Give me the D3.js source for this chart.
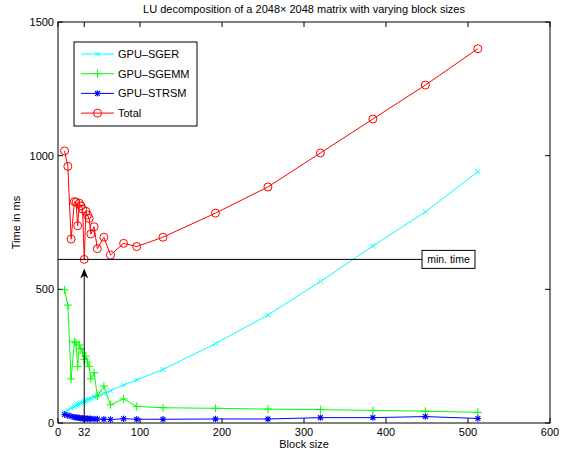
<!DOCTYPE html>
<html>
<head>
<meta charset="utf-8">
<script src="https://cdn.jsdelivr.net/npm/d3@7"></script>
<style>
  body { margin: 0; background: #fff; }
  svg { font-family: "Liberation Sans", Arial, sans-serif; }
</style>
</head>
<body>
<div id="chart"></div>
<script>
const WIDTH = 566, HEIGHT = 456;

// block sizes and measured times (ms)
const blockSizes = [8, 12, 16, 20, 22, 24, 26, 28, 30, 32, 34, 36, 38, 40, 44, 48, 56, 64, 80, 96, 128, 192, 256, 320, 384, 448, 512];
const sger  = [38, 48, 56, 62, 66, 69, 72, 75, 78, 81, 84, 87, 89, 92, 97, 102, 111, 121, 142, 161, 200, 297, 404, 529, 662, 790, 940];
const sgemm = [498, 441, 165, 304, 300, 211, 292, 278, 262, 238, 250, 228, 212, 165, 188, 101, 138, 68, 90, 62, 57, 55, 52, 50, 47, 44, 40];
const strsm = [32, 28, 25, 22, 21, 20, 19, 18, 18, 17, 17, 16, 16, 16, 15, 15, 14, 13, 16, 14, 14, 15, 15, 20, 20, 24, 17];
const total = [1018, 960, 688, 828, 826, 738, 822, 812, 800, 612, 792, 778, 765, 707, 734, 652, 695, 628, 672, 660, 695, 785, 883, 1010, 1137, 1264, 1400];

const xTicks = [0, 32, 100, 200, 300, 400, 500, 600];
const yTicks = [0, 500, 1000, 1500];

const seriesNames = ["GPU\u2013SGER", "GPU\u2013SGEMM", "GPU\u2013STRSM", "Total"];
const seriesColors = ["#00ffff", "#00ff00", "#0000ff", "#ff0000"];
const seriesMarkers = ["x", "plus", "star", "circle"];
const seriesValues = [sger, sgemm, strsm, total];

const minBlock = 32;
const minTime = d3.min(total);

const margin = {left: 58, right: 16, top: 22, bottom: 33};

const svg = d3.select("#chart").append("svg")
    .attr("width", WIDTH)
    .attr("height", HEIGHT);

let x = d3.scaleLinear().domain([0, 600]).range([margin.left, WIDTH - margin.right]);
let y = d3.scaleLinear().domain([0, 1500]).range([HEIGHT - margin.bottom, margin.top]);

// marker shapes
function drawMarker(g, type, cx, cy, color) {
    if (type === "x") {
        let s = 2.5;
        g.append("path")
            .attr("d", `M${cx - s},${cy - s}L${cx + s},${cy + s}M${cx - s},${cy + s}L${cx + s},${cy - s}`)
            .attr("stroke", color).attr("stroke-width", 1).attr("fill", "none");
    } else if (type === "plus") {
        let s = 4;
        g.append("path")
            .attr("d", `M${cx - s},${cy}L${cx + s},${cy}M${cx},${cy - s}L${cx},${cy + s}`)
            .attr("stroke", color).attr("stroke-width", 1).attr("fill", "none");
    } else if (type === "star") {
        let s = 3.2, d = 2.4;
        g.append("path")
            .attr("d", `M${cx - s},${cy}L${cx + s},${cy}M${cx},${cy - s}L${cx},${cy + s}` +
                       `M${cx - d},${cy - d}L${cx + d},${cy + d}M${cx - d},${cy + d}L${cx + d},${cy - d}`)
            .attr("stroke", color).attr("stroke-width", 1.1).attr("fill", "none");
    } else {
        g.append("circle")
            .attr("cx", cx).attr("cy", cy).attr("r", 4)
            .attr("stroke", color).attr("stroke-width", 1).attr("fill", "none");
    }
}

// axes box
const x0 = x(0), x1 = x(600), yb = y(0), yt = y(1500);
svg.append("rect")
    .attr("x", x0).attr("y", yt)
    .attr("width", x1 - x0).attr("height", yb - yt)
    .attr("fill", "none").attr("stroke", "#000").attr("stroke-width", 1);

// ticks pointing inward, both sides
const tickLen = 5;
xTicks.forEach(function(t) {
    svg.append("line").attr("x1", x(t)).attr("x2", x(t)).attr("y1", yb).attr("y2", yb - tickLen).attr("stroke", "#000");
    svg.append("line").attr("x1", x(t)).attr("x2", x(t)).attr("y1", yt).attr("y2", yt + tickLen).attr("stroke", "#000");
    svg.append("text")
        .attr("x", x(t)).attr("y", yb + 13)
        .attr("text-anchor", "middle")
        .style("font-size", "11px")
        .text(t);
});
yTicks.forEach(function(t) {
    svg.append("line").attr("x1", x0).attr("x2", x0 + tickLen).attr("y1", y(t)).attr("y2", y(t)).attr("stroke", "#000");
    svg.append("line").attr("x1", x1).attr("x2", x1 - tickLen).attr("y1", y(t)).attr("y2", y(t)).attr("stroke", "#000");
    svg.append("text")
        .attr("x", x0 - 4).attr("y", y(t) + 4)
        .attr("text-anchor", "end")
        .style("font-size", "11px")
        .text(t);
});

// series
const line = d3.line().x(d => x(d[0])).y(d => y(d[1]));
seriesValues.forEach(function(vals, i) {
    let pts = blockSizes.map((b, j) => [b, vals[j]]);
    let g = svg.append("g");
    g.append("path")
        .attr("d", line(pts))
        .attr("fill", "none")
        .attr("stroke", seriesColors[i])
        .attr("stroke-width", 1);
    pts.forEach(p => drawMarker(g, seriesMarkers[i], x(p[0]), y(p[1]), seriesColors[i]));
});

// min. time annotation
const labelX = 422;
svg.append("line")
    .attr("x1", x0).attr("x2", labelX)
    .attr("y1", y(minTime)).attr("y2", y(minTime))
    .attr("stroke", "#000").attr("stroke-width", 1);
svg.append("rect")
    .attr("x", labelX).attr("y", y(minTime) - 9)
    .attr("width", 53).attr("height", 18)
    .attr("fill", "#fff").attr("stroke", "#000");
svg.append("text")
    .attr("x", labelX + 26.5).attr("y", y(minTime) + 4)
    .attr("text-anchor", "middle")
    .style("font-size", "10.5px")
    .text("min. time");

// arrow up to the minimum
const tipY = y(minTime) + 9;
svg.append("line")
    .attr("x1", x(minBlock)).attr("x2", x(minBlock))
    .attr("y1", yb).attr("y2", tipY + 2)
    .attr("stroke", "#000").attr("stroke-width", 1);
svg.append("path")
    .attr("d", `M${x(minBlock)},${tipY}L${x(minBlock) - 4},${tipY + 10}L${x(minBlock)},${tipY + 7}L${x(minBlock) + 4},${tipY + 10}Z`)
    .attr("fill", "#000");

// legend
const lg = svg.append("g");
lg.append("rect")
    .attr("x", 74).attr("y", 42)
    .attr("width", 123).attr("height", 84)
    .attr("fill", "#fff").attr("stroke", "#000");
seriesNames.forEach(function(name, i) {
    let ly = 54 + i * 19.7;
    lg.append("line")
        .attr("x1", 81).attr("x2", 114).attr("y1", ly).attr("y2", ly)
        .attr("stroke", seriesColors[i]);
    drawMarker(lg, seriesMarkers[i], 97.5, ly, seriesColors[i]);
    lg.append("text")
        .attr("x", 118).attr("y", ly + 4)
        .style("font-size", "11px")
        .text(name);
});

// labels
svg.append("text")
    .attr("x", (x0 + x1) / 2).attr("y", 13)
    .attr("text-anchor", "middle")
    .style("font-size", "11px")
    .text("LU decomposition of a 2048\u00d7 2048 matrix with varying block sizes");
svg.append("text")
    .attr("x", (x0 + x1) / 2).attr("y", 448)
    .attr("text-anchor", "middle")
    .style("font-size", "11px")
    .text("Block size");
svg.append("text")
    .attr("transform", `translate(20,${(yt + yb) / 2}) rotate(-90)`)
    .attr("text-anchor", "middle")
    .style("font-size", "11px")
    .text("Time in ms");
</script>
</body>
</html>
